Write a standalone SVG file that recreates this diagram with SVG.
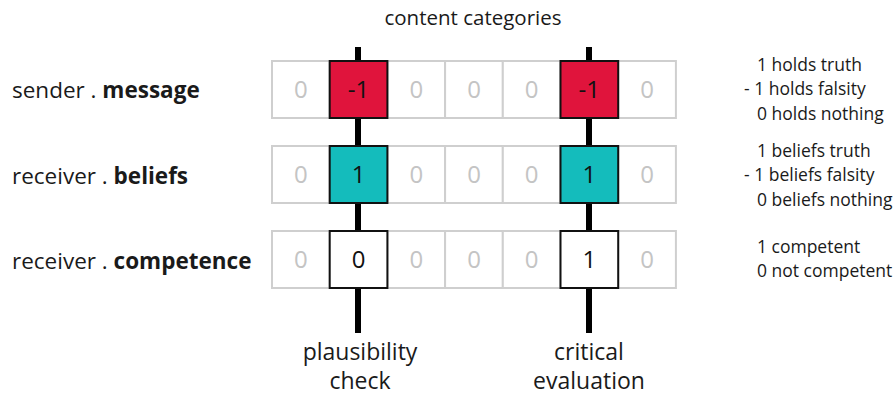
<svg xmlns="http://www.w3.org/2000/svg" width="896" height="396" viewBox="0 0 896 396">
  <style>
    text { font-family: "Open Sans", "Noto Sans", "Liberation Sans", sans-serif; fill: #1a1a1a; }
    .cell { fill: #ffffff; stroke: #cfcfcf; stroke-width: 2; }
    .zero { fill: #c4c4c4; font-size: 24px; text-anchor: middle; }
    .val { fill: #111111; font-size: 24px; text-anchor: middle; }
    .hl { stroke: #111111; stroke-width: 2; }
    .red { fill: #e0143c; }
    .teal { fill: #14bcbc; }
    .white { fill: #ffffff; }
    .row-label { font-size: 22.5px; }
    .legend { font-size: 17.5px; }
    .axis { font-size: 23px; text-anchor: middle; }
    .bar { stroke: #000000; stroke-width: 6; }
  </style>

  <text x="473" y="25" font-size="20.5" text-anchor="middle">content categories</text>

  <!-- vertical process bars behind the grid -->
  <g id="connectors">
    <line class="bar" x1="358" y1="47" x2="358" y2="333"/>
    <line class="bar" x1="589" y1="47" x2="589" y2="333"/>
  </g>

  <!-- row 1: sender message -->
  <g id="row-message">
    <text class="row-label" x="12" y="98">sender . <tspan font-weight="bold">message</tspan></text>
    <rect class="cell" x="272" y="61" width="57.7" height="57"/>
    <rect class="cell" x="387.4" y="61" width="57.7" height="57"/>
    <rect class="cell" x="445.1" y="61" width="57.7" height="57"/>
    <rect class="cell" x="502.8" y="61" width="57.7" height="57"/>
    <rect class="cell" x="618.2" y="61" width="57.7" height="57"/>
    <text class="zero" x="300.9" y="98">0</text>
    <text class="zero" x="416.3" y="98">0</text>
    <text class="zero" x="474" y="98">0</text>
    <text class="zero" x="531.6" y="98">0</text>
    <text class="zero" x="647" y="98">0</text>
  </g>
  <g id="message-plausibility">
    <rect class="red hl" x="329.7" y="61" width="57.7" height="57"/>
    <text class="val" x="358.5" y="98">-1</text>
  </g>
  <g id="message-critical">
    <rect class="red hl" x="560.5" y="61" width="57.7" height="57"/>
    <text class="val" x="589.3" y="98">-1</text>
  </g>

  <!-- row 2: receiver beliefs -->
  <g id="row-beliefs">
    <text class="row-label" x="12" y="184">receiver . <tspan font-weight="bold">beliefs</tspan></text>
    <rect class="cell" x="272" y="146" width="57.7" height="57"/>
    <rect class="cell" x="387.4" y="146" width="57.7" height="57"/>
    <rect class="cell" x="445.1" y="146" width="57.7" height="57"/>
    <rect class="cell" x="502.8" y="146" width="57.7" height="57"/>
    <rect class="cell" x="618.2" y="146" width="57.7" height="57"/>
    <text class="zero" x="300.9" y="183">0</text>
    <text class="zero" x="416.3" y="183">0</text>
    <text class="zero" x="474" y="183">0</text>
    <text class="zero" x="531.6" y="183">0</text>
    <text class="zero" x="647" y="183">0</text>
  </g>
  <g id="beliefs-plausibility">
    <rect class="teal hl" x="329.7" y="146" width="57.7" height="57"/>
    <text class="val" x="358.5" y="183">1</text>
  </g>
  <g id="beliefs-critical">
    <rect class="teal hl" x="560.5" y="146" width="57.7" height="57"/>
    <text class="val" x="589.3" y="183">1</text>
  </g>

  <!-- row 3: receiver competence -->
  <g id="row-competence">
    <text class="row-label" x="12" y="269">receiver . <tspan font-weight="bold">competence</tspan></text>
    <rect class="cell" x="272" y="231" width="57.7" height="57"/>
    <rect class="cell" x="387.4" y="231" width="57.7" height="57"/>
    <rect class="cell" x="445.1" y="231" width="57.7" height="57"/>
    <rect class="cell" x="502.8" y="231" width="57.7" height="57"/>
    <rect class="cell" x="618.2" y="231" width="57.7" height="57"/>
    <text class="zero" x="300.9" y="268">0</text>
    <text class="zero" x="416.3" y="268">0</text>
    <text class="zero" x="474" y="268">0</text>
    <text class="zero" x="531.6" y="268">0</text>
    <text class="zero" x="647" y="268">0</text>
  </g>
  <g id="competence-plausibility">
    <rect class="white hl" x="329.7" y="231" width="57.7" height="57"/>
    <text class="val" x="358.5" y="268">0</text>
  </g>
  <g id="competence-critical">
    <rect class="white hl" x="560.5" y="231" width="57.7" height="57"/>
    <text class="val" x="589.3" y="268">1</text>
  </g>

  <!-- legends -->
  <g id="legend-message">
    <text class="legend" x="757" y="71">1 holds truth</text>
    <text class="legend" x="744" y="95">- 1 holds falsity</text>
    <text class="legend" x="757" y="120">0 holds nothing</text>
  </g>
  <g id="legend-beliefs">
    <text class="legend" x="757" y="157">1 beliefs truth</text>
    <text class="legend" x="744" y="181">- 1 beliefs falsity</text>
    <text class="legend" x="757" y="206">0 beliefs nothing</text>
  </g>
  <g id="legend-competence">
    <text class="legend" x="757" y="253">1 competent</text>
    <text class="legend" x="757" y="277">0 not competent</text>
  </g>

  <!-- process labels -->
  <g id="plausibility-check">
    <text class="axis" x="360" y="360">plausibility</text>
    <text class="axis" x="360" y="389">check</text>
  </g>
  <g id="critical-evaluation">
    <text class="axis" x="589" y="360">critical</text>
    <text class="axis" x="589" y="389">evaluation</text>
  </g>
</svg>
